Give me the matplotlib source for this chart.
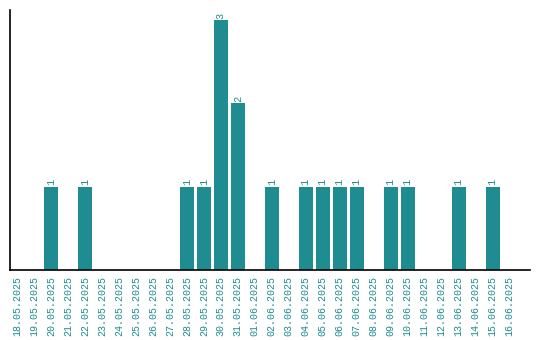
import matplotlib
matplotlib.use("Agg")
import matplotlib.pyplot as plt

dates = ["18.05.2025", "19.05.2025", "20.05.2025", "21.05.2025", "22.05.2025",
         "23.05.2025", "24.05.2025", "25.05.2025", "26.05.2025", "27.05.2025",
         "28.05.2025", "29.05.2025", "30.05.2025", "31.05.2025", "01.06.2025",
         "02.06.2025", "03.06.2025", "04.06.2025", "05.06.2025", "06.06.2025",
         "07.06.2025", "08.06.2025", "09.06.2025", "10.06.2025", "11.06.2025",
         "12.06.2025", "13.06.2025", "14.06.2025", "15.06.2025", "16.06.2025"]
counts = [0, 0, 1, 0, 1, 0, 0, 0, 0, 0,
          1, 1, 3, 2, 0, 1, 0, 1, 1, 1,
          1, 0, 1, 1, 0, 0, 1, 0, 1, 0]

color = "#1e8c91"
fig = plt.figure(figsize=(5.4, 3.4), dpi=100)
ax = fig.add_axes([10/540, 70/340, 520/540, 260/340])
x = list(range(len(dates)))
bars = ax.bar(x, counts, width=0.82, color=color)
for xi, c in zip(x, counts):
    if c > 0:
        ax.text(xi, c + 0.015, str(c), rotation=90, ha="center", va="bottom",
                color=color, fontsize=7.5, family="Liberation Mono")
ax.set_xlim(-0.41, 30.2)
ax.set_ylim(0, 3.12)
ax.set_xticks(x)
ax.set_xticklabels(dates, rotation=90, color=color, fontsize=7.2,
                   family="Liberation Mono")
ax.tick_params(axis="x", length=0, pad=4)
ax.set_yticks([])
ax.spines["top"].set_visible(False)
ax.spines["right"].set_visible(False)
ax.spines["left"].set_linewidth(1.2)
ax.spines["bottom"].set_linewidth(1.2)
fig.savefig("out.png", dpi=100)
